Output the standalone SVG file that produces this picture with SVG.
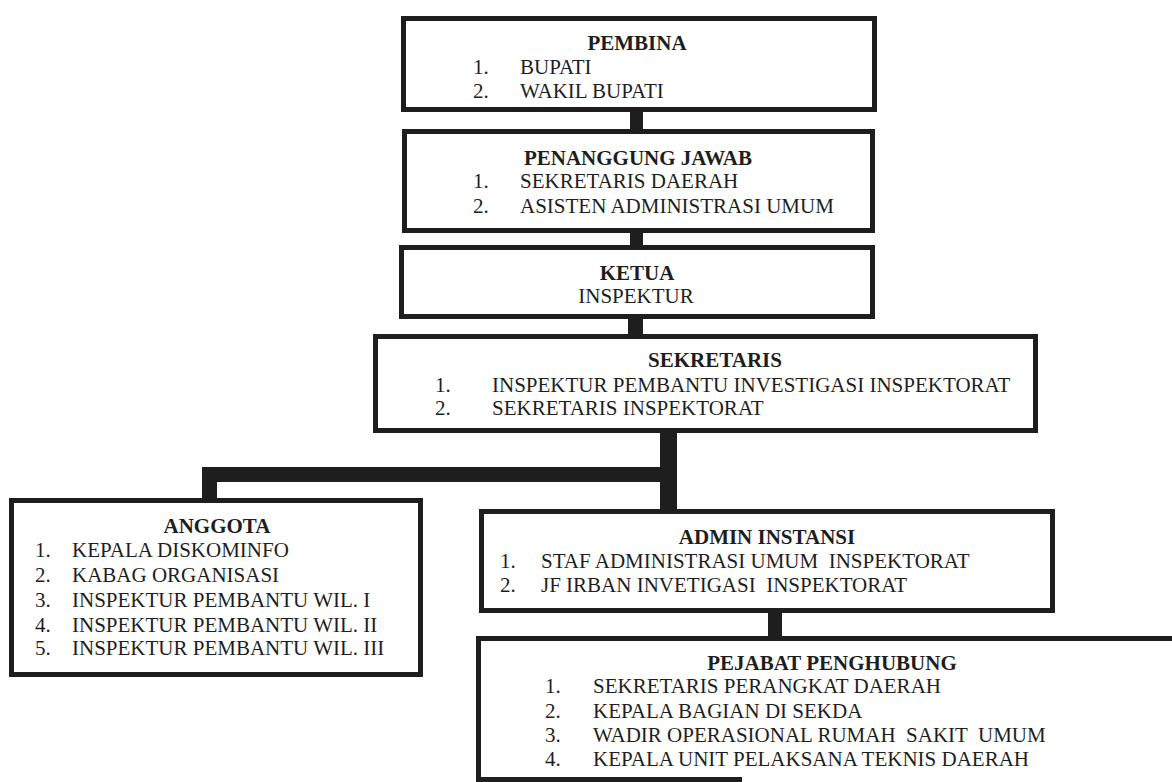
<svg xmlns="http://www.w3.org/2000/svg" width="1172" height="782" viewBox="0 0 1172 782">
<style>
.box{fill:none;stroke:#1e1e1e;stroke-width:5}
.bar{fill:#1e1e1e}
text{font-family:"Liberation Serif","Times New Roman",serif;font-size:21px;fill:#1e1e1e}
.t{font-weight:bold;text-anchor:middle}
</style>
<rect x="0" y="0" width="1172" height="782" fill="#ffffff"/>
<g id="connectors">
<rect class="bar" x="630" y="110" width="13" height="21"/>
<rect class="bar" x="630" y="231" width="13" height="16"/>
<rect class="bar" x="628" y="317" width="15" height="19"/>
<rect class="bar" x="660" y="431" width="17" height="80"/>
<rect class="bar" x="202" y="467" width="466" height="15"/>
<rect class="bar" x="202" y="467" width="15" height="35"/>
<rect class="bar" x="768" y="611" width="14" height="27"/>
</g>
<g id="pembina">
<rect class="box" x="403.5" y="18.5" width="471" height="91"/>
<text class="t" x="637" y="50">PEMBINA</text>
<text x="473" y="74">1.</text><text x="520" y="74">BUPATI</text>
<text x="473" y="98">2.</text><text x="520" y="98">WAKIL BUPATI</text>
</g>
<g id="penanggung-jawab">
<rect class="box" x="404.5" y="131.5" width="468" height="99"/>
<text class="t" x="638" y="165">PENANGGUNG JAWAB</text>
<text x="473" y="188">1.</text><text x="520" y="188">SEKRETARIS DAERAH</text>
<text x="473" y="213">2.</text><text x="520" y="213">ASISTEN ADMINISTRASI UMUM</text>
</g>
<g id="ketua">
<rect class="box" x="401.5" y="247.5" width="471" height="69"/>
<text class="t" x="637" y="280">KETUA</text>
<text x="636" y="303" text-anchor="middle">INSPEKTUR</text>
</g>
<g id="sekretaris">
<rect class="box" x="375.5" y="336.5" width="660" height="94"/>
<text class="t" x="715" y="367">SEKRETARIS</text>
<text x="435" y="392">1.</text><text x="492" y="392">INSPEKTUR PEMBANTU INVESTIGASI INSPEKTORAT</text>
<text x="435" y="415">2.</text><text x="492" y="415">SEKRETARIS INSPEKTORAT</text>
</g>
<g id="anggota">
<rect class="box" x="11.5" y="500.5" width="409" height="174"/>
<text class="t" x="217" y="533">ANGGOTA</text>
<text x="35" y="557">1.</text><text x="72" y="557">KEPALA DISKOMINFO</text>
<text x="35" y="582">2.</text><text x="72" y="582">KABAG ORGANISASI</text>
<text x="35" y="607">3.</text><text x="72" y="607">INSPEKTUR PEMBANTU WIL. I</text>
<text x="35" y="632">4.</text><text x="72" y="632">INSPEKTUR PEMBANTU WIL. II</text>
<text x="35" y="655">5.</text><text x="72" y="655">INSPEKTUR PEMBANTU WIL. III</text>
</g>
<g id="admin-instansi">
<rect class="box" x="481.5" y="511.5" width="571" height="99"/>
<text class="t" x="767" y="544">ADMIN INSTANSI</text>
<text x="500" y="568">1.</text><text x="541" y="568" xml:space="preserve">STAF ADMINISTRASI UMUM  INSPEKTORAT</text>
<text x="500" y="592">2.</text><text x="541" y="592" xml:space="preserve">JF IRBAN INVETIGASI  INSPEKTORAT</text>
</g>
<g id="pejabat-penghubung">
<path class="box" d="M1172 638.5 H478.5 V779.5 H742"/>
<text class="t" x="832" y="670">PEJABAT PENGHUBUNG</text>
<text x="545" y="693">1.</text><text x="593" y="693">SEKRETARIS PERANGKAT DAERAH</text>
<text x="545" y="718">2.</text><text x="593" y="718">KEPALA BAGIAN DI SEKDA</text>
<text x="545" y="742">3.</text><text x="593" y="742" xml:space="preserve">WADIR OPERASIONAL RUMAH  SAKIT  UMUM</text>
<text x="545" y="766">4.</text><text x="593" y="766">KEPALA UNIT PELAKSANA TEKNIS DAERAH</text>
</g>
</svg>
